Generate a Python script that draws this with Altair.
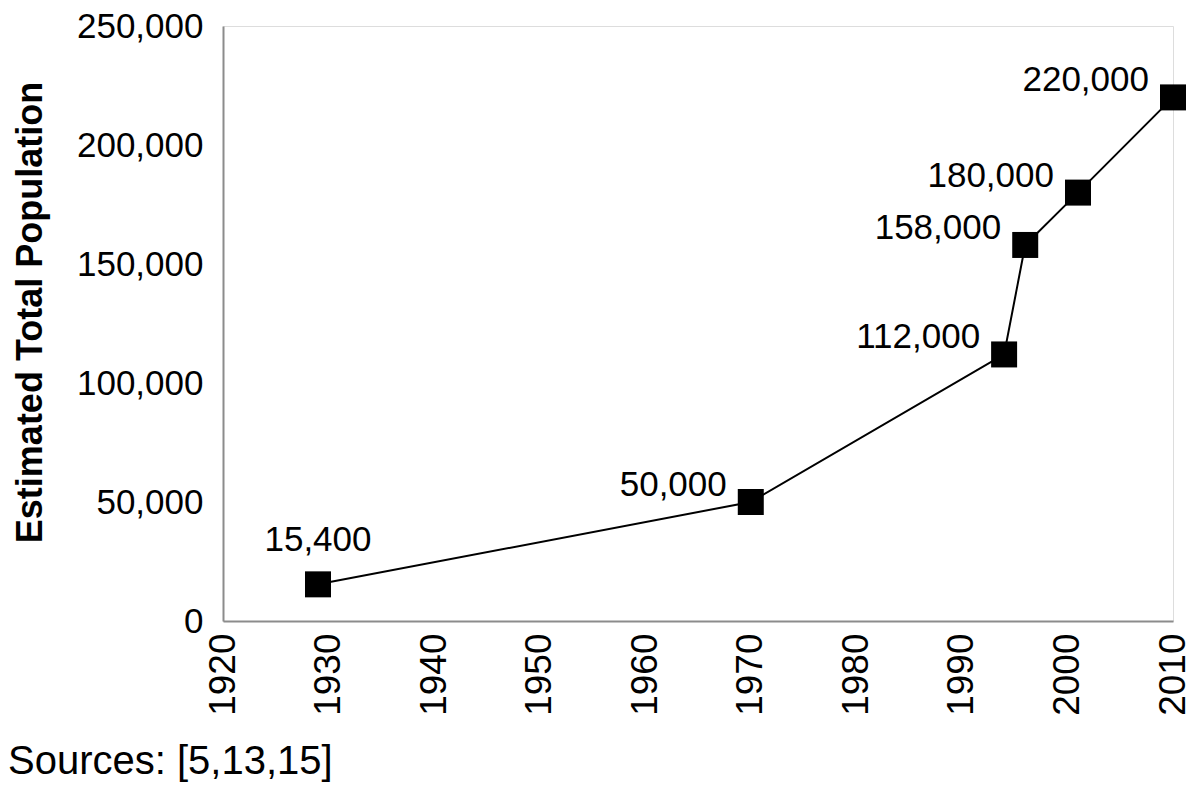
import altair as alt
import pandas as pd

years = [1929, 1970, 1994, 1996, 2001, 2010]
population = [15400, 50000, 112000, 158000, 180000, 220000]
labels = ["15,400", "50,000", "112,000", "158,000", "180,000", "220,000"]
x_ticks = [1920, 1930, 1940, 1950, 1960, 1970, 1980, 1990, 2000, 2010]
y_ticks = [0, 50000, 100000, 150000, 200000, 250000]
y_title = "Estimated Total Population"
source_note = "Sources: [5,13,15]"

df = pd.DataFrame({"year": years, "pop": population, "label": labels})
df_first = df.iloc[:1]
df_rest = df.iloc[1:]

FONT = "Liberation Sans"
AXIS_GREY = "#8c8c8c"

x_enc = alt.X(
    "year:Q",
    scale=alt.Scale(domain=[1920, 2010], nice=False, zero=False),
    axis=alt.Axis(
        values=x_ticks, format="d", title=None, grid=False, ticks=False,
        labelAngle=-90, labelPadding=12, labelFontSize=37, labelFont=FONT,
        labelColor="black", domainColor=AXIS_GREY, domainWidth=2,
        labelFlush=False, labelOverlap=False,
    ),
)
y_enc = alt.Y(
    "pop:Q",
    scale=alt.Scale(domain=[0, 250000], nice=False),
    axis=alt.Axis(
        values=y_ticks, format=",d", title=y_title, grid=False, ticks=False,
        labelPadding=20, labelFontSize=35, labelFont=FONT, labelColor="black",
        domainColor=AXIS_GREY, domainWidth=2, labelFlush=False,
        titleFont=FONT, titleFontSize=36, titleFontWeight="bold",
        titleColor="black", titleX=-193, titleY=286, titleAngle=270,
        titleAlign="center", titleBaseline="middle",
    ),
)

line = alt.Chart(df).mark_line(color="black", strokeWidth=2).encode(x=x_enc, y=y_enc)
points = alt.Chart(df).mark_point(
    shape="square", size=676, filled=True, color="black", opacity=1
).encode(x="year:Q", y="pop:Q")

lab_first = alt.Chart(df_first).mark_text(
    font=FONT, fontSize=35, color="black", align="center", baseline="middle", dy=-44
).encode(x="year:Q", y="pop:Q", text="label:N")

lab_rest = alt.Chart(df_rest).mark_text(
    font=FONT, fontSize=35, color="black", align="right", baseline="middle", dx=-24, dy=-17
).encode(x="year:Q", y="pop:Q", text="label:N")

note = alt.Chart(pd.DataFrame({"t": [source_note]})).mark_text(
    font=FONT, fontSize=40, color="black", align="left", baseline="middle"
).encode(x=alt.value(-215), y=alt.value(736), text="t:N")

chart = (
    alt.layer(line, points, lab_first, lab_rest, note)
    .properties(
        width=950, height=595,
        autosize=alt.AutoSizeParams(type="none"),
        padding={"left": 215, "top": 18, "right": 19, "bottom": 165},
    )
    .configure_view(stroke=None)
    .configure(background="white")
)

chart.save("out.html", embed_options={"renderer": "svg", "actions": False})
